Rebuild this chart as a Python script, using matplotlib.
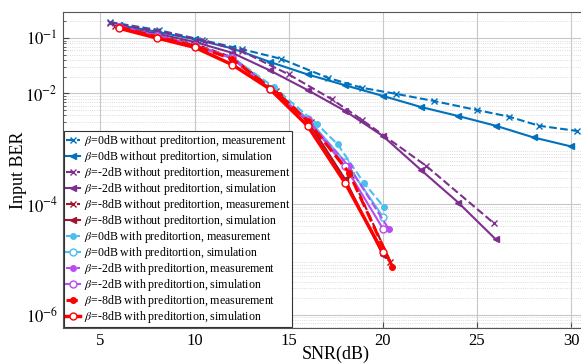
import numpy as np
import matplotlib.pyplot as plt

# SNR (dB) and input BER for each configuration
snr_sim_long = [6, 8, 10, 12, 14, 16, 18, 20, 22, 24, 26, 28, 30]
snr_sim_mid = [6, 8, 10, 12, 14, 16, 18, 20, 22, 24, 26]
snr_sim_short = [6, 8, 10, 12, 14, 16, 18, 20]

# beta = 0 dB, no predistortion
b0_meas_snr = [5.5, 8.1, 10.4, 12.5, 14.6, 17.1, 18.9, 20.7, 22.7, 25.0, 26.7, 28.3, 30.3]
b0_meas_ber = [0.194, 0.139, 0.092, 0.063, 0.042, 0.019, 0.0126, 0.0098, 0.0073, 0.0050, 0.0038, 0.0026, 0.0021]
b0_sim_ber = [0.17, 0.13, 0.095, 0.065, 0.037, 0.022, 0.014, 0.009, 0.0057, 0.0039, 0.0026, 0.0016, 0.0011]

# beta = -2 dB, no predistortion
b2_meas_snr = [5.5, 8, 10.5, 12.5, 15, 17.3, 18.9, 22.3, 25.9]
b2_meas_ber = [0.19, 0.135, 0.09, 0.058, 0.022, 0.0078, 0.0033, 4.9e-4, 4.5e-5]
b2_sim_ber = [0.16, 0.12, 0.085, 0.054, 0.026, 0.0115, 0.0048, 0.0017, 4.2e-4, 1.07e-4, 2.3e-5]

# beta = -8 dB, no predistortion
b8_meas_snr = [5.8, 8, 10, 12, 14.3, 16.2, 18.3, 20.4]
b8_meas_ber = [0.165, 0.11, 0.078, 0.045, 0.011, 0.003, 3.4e-4, 9e-6]
b8_sim_ber = [0.16, 0.108, 0.074, 0.044, 0.012, 0.0032, 2.8e-4, 1.2e-5]

# beta = 0 dB, with predistortion
p0_meas_snr = [6, 8, 10, 12, 14.2, 16.5, 17.6, 19, 20.05]
p0_meas_ber = [0.16, 0.11, 0.075, 0.045, 0.013, 0.0028, 0.0012, 2.4e-4, 8.9e-5]
p0_sim_ber = [0.16, 0.108, 0.073, 0.043, 0.012, 0.0035, 5.8e-4, 5.9e-5]

# beta = -2 dB, with predistortion
p2_meas_snr = [6, 8, 10, 12, 14, 16, 18.2, 20.3]
p2_meas_ber = [0.165, 0.11, 0.075, 0.044, 0.012, 0.0033, 4.8e-4, 3.6e-5]
p2_sim_ber = [0.16, 0.108, 0.073, 0.043, 0.012, 0.0033, 4.8e-4, 3.6e-5]

# beta = -8 dB, with predistortion
p8_meas_snr = [6, 8, 10, 12, 14.5, 16, 18.2, 20.5]
p8_meas_ber = [0.158, 0.105, 0.072, 0.042, 0.0094, 0.0032, 3.7e-4, 7.4e-6]
p8_sim_ber = [0.15, 0.10, 0.068, 0.033, 0.012, 0.0026, 2.4e-4, 1.35e-5]

plt.rcParams['font.family'] = 'Liberation Serif'
plt.rcParams['mathtext.fontset'] = 'stix'

c_blue = '#0072BD'
c_purple = '#7E2F8E'
c_dred = '#A2142F'
c_lblue = '#4DBEEE'
c_lpurple = '#B84CF0'
c_red = '#FF0000'

fig = plt.figure(figsize=(5.81, 3.64), dpi=100)
ax = fig.add_axes([0.108, 0.099, 0.94, 0.868])

ax.semilogy(b0_meas_snr, b0_meas_ber, '--x', color=c_blue, lw=1.5, ms=4,
            label=r'$\beta$=0dB without preditortion, measurement')
ax.semilogy(snr_sim_long, b0_sim_ber, '-<', color=c_blue, lw=1.5, ms=5,
            label=r'$\beta$=0dB without preditortion, simulation')
ax.semilogy(b2_meas_snr, b2_meas_ber, '--x', color=c_purple, lw=1.5, ms=4,
            label=r'$\beta$=-2dB without preditortion, measurement')
ax.semilogy(snr_sim_mid, b2_sim_ber, '-<', color=c_purple, lw=1.5, ms=5,
            label=r'$\beta$=-2dB without preditortion, simulation')
ax.semilogy(b8_meas_snr, b8_meas_ber, '--x', color=c_dred, lw=1.5, ms=4,
            label=r'$\beta$=-8dB without preditortion, measurement')
ax.semilogy(snr_sim_short, b8_sim_ber, '-<', color=c_dred, lw=1.5, ms=5,
            label=r'$\beta$=-8dB without preditortion, simulation')
ax.semilogy(p0_meas_snr, p0_meas_ber, '--o', color=c_lblue, lw=1.5, ms=4,
            label=r'$\beta$=0dB with preditortion, measurement')
ax.semilogy(snr_sim_short, p0_sim_ber, '-o', color=c_lblue, lw=1.5, ms=5,
            mfc='white', label=r'$\beta$=0dB with preditortion, simulation')
ax.semilogy(p2_meas_snr, p2_meas_ber, '--o', color=c_lpurple, lw=1.5, ms=4,
            label=r'$\beta$=-2dB with preditortion, measurement')
ax.semilogy(snr_sim_short, p2_sim_ber, '-o', color=c_lpurple, lw=1.5, ms=5,
            mfc='white', label=r'$\beta$=-2dB with preditortion, simulation')
ax.semilogy(p8_meas_snr, p8_meas_ber, '--o', color=c_red, lw=2.2, ms=4,
            label=r'$\beta$=-8dB with preditortion, measurement')
ax.semilogy(snr_sim_short, p8_sim_ber, '-o', color=c_red, lw=2.5, ms=5,
            mfc='white', label=r'$\beta$=-8dB with preditortion, simulation')

ax.set_xlim(3, 32)
ax.set_ylim(5.8e-7, 0.295)
ax.set_xticks([5, 10, 15, 20, 25, 30])
ax.set_yticks([1e-6, 1e-4, 1e-2, 1e-1])
ax.set_yticklabels([r'$10^{-6}$', r'$10^{-4}$', r'$10^{-2}$', r'$10^{-1}$'])
ax.tick_params(which='both', direction='in', labelsize=12, color='#444444')
ax.tick_params(which='major', length=4)
ax.tick_params(which='minor', length=2)

ax.grid(True, which='major', color='#c8c8c8', lw=0.8)
ax.grid(True, which='minor', axis='y', color='#d0d0d0', lw=0.6, ls=':')
for s in ax.spines.values():
    s.set_color('#555555')

ax.set_xlabel('SNR(dB)', fontsize=13, labelpad=-2)
ax.set_ylabel('Input BER', fontsize=13, labelpad=-1)

leg = ax.legend(loc='lower left', fontsize=8.6, handlelength=1.2,
                handletextpad=0.3, labelspacing=0.0, borderpad=0.15,
                borderaxespad=0.1, fancybox=False, framealpha=1,
                edgecolor='#333333')
leg.get_frame().set_linewidth(0.8)

fig.savefig('out.png', dpi=100)
